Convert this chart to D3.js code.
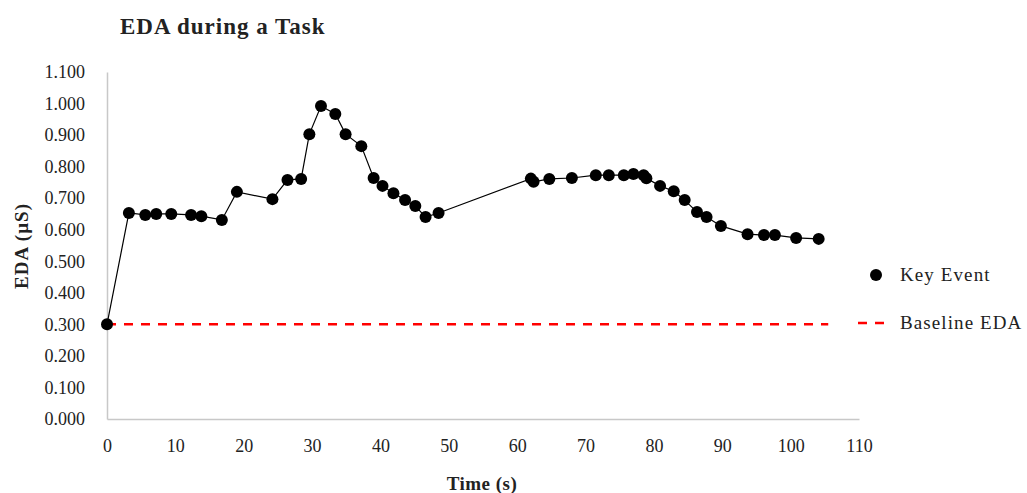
<!DOCTYPE html>
<html>
<head>
<meta charset="utf-8">
<script src="https://cdn.jsdelivr.net/npm/d3@7"></script>
<style>
    body { margin: 0; background: #fff; }
    text { font-family: "Liberation Serif", "DejaVu Serif", serif; fill: #222; }
</style>
</head>
<body>
<div id="chart"></div>
<script>
// Key event times (s) and EDA values (µS)
const times = [0, 3.2, 5.6, 7.2, 9.4, 12.3, 13.8, 16.8, 19.0, 24.2, 26.4, 28.4, 29.6, 31.3, 33.4, 34.9,
    37.2, 39.0, 40.3, 41.9, 43.6, 45.1, 46.6, 48.5, 62.0, 62.4, 64.7, 68.0, 71.5, 73.4, 75.6, 77.0,
    78.5, 78.9, 80.9, 82.9, 84.5, 86.3, 87.7, 89.8, 93.7, 96.1, 97.7, 100.8, 104.1];
const eda = [0.300, 0.653, 0.647, 0.650, 0.650, 0.647, 0.643, 0.631, 0.720, 0.697, 0.758, 0.761, 0.903, 0.992, 0.967, 0.903,
    0.865, 0.764, 0.739, 0.716, 0.694, 0.675, 0.640, 0.653, 0.762, 0.752, 0.761, 0.764, 0.773, 0.773, 0.773, 0.777,
    0.773, 0.763, 0.739, 0.722, 0.694, 0.656, 0.640, 0.612, 0.586, 0.583, 0.583, 0.574, 0.571];
const baselineTimes = [0, 105.5];
const baselineValue = 0.3;
const xTicks = [0, 10, 20, 30, 40, 50, 60, 70, 80, 90, 100, 110];
const yTicks = [0, 0.1, 0.2, 0.3, 0.4, 0.5, 0.6, 0.7, 0.8, 0.9, 1.0, 1.1];

const data = times.map((t, i) => ({t: t, v: eda[i]}));

const width = 1027, height = 493;
const svg = d3.select("#chart").append("svg")
    .attr("width", width)
    .attr("height", height);

const x = d3.scaleLinear().domain([0, 110]).range([107, 859]);
const y = d3.scaleLinear().domain([0, 1.1]).range([419, 72]);

// axes (no tick marks, light grey lines)
const xAxis = svg.append("g")
    .attr("transform", `translate(0,${y(0)})`)
    .call(d3.axisBottom(x).tickValues(xTicks).tickSize(0).tickPadding(20).tickFormat(d3.format("d")));
const yAxis = svg.append("g")
    .attr("transform", `translate(${x(0)},0)`)
    .call(d3.axisLeft(y).tickValues(yTicks).tickSize(0).tickPadding(22).tickFormat(d3.format(".3f")));
[xAxis, yAxis].forEach(g => {
    g.select(".domain").attr("stroke", "#c8c8c8").attr("stroke-width", 1.5);
    g.selectAll("text").style("font-size", "18px").attr("fill", "#222");
});

// baseline
svg.append("line")
    .attr("x1", x(baselineTimes[0])).attr("x2", x(baselineTimes[1]))
    .attr("y1", y(baselineValue)).attr("y2", y(baselineValue))
    .attr("stroke", "#ff0000")
    .attr("stroke-width", 2.5)
    .attr("stroke-dasharray", "9,8");

// the line
svg.append("path")
    .datum(data)
    .attr("fill", "none")
    .attr("stroke", "#000")
    .attr("stroke-width", 1.2)
    .attr("d", d3.line().x(d => x(d.t)).y(d => y(d.v)));

// points
svg.selectAll("circle.pt")
    .data(data)
    .enter()
    .append("circle")
    .attr("class", "pt")
    .attr("cx", d => x(d.t))
    .attr("cy", d => y(d.v))
    .attr("r", 6)
    .attr("fill", "#000");

// title and axis labels
svg.append("text")
    .attr("x", 120).attr("y", 34)
    .style("font-size", "23px").style("font-weight", "bold")
    .style("letter-spacing", "1px")
    .text("EDA during a Task");

svg.append("text")
    .attr("x", 482).attr("y", 490)
    .attr("text-anchor", "middle")
    .style("font-size", "19px").style("font-weight", "bold")
    .style("letter-spacing", "0.5px")
    .text("Time (s)");

svg.append("text")
    .attr("transform", "rotate(-90)")
    .attr("x", -246).attr("y", 28)
    .attr("text-anchor", "middle")
    .style("font-size", "19px").style("font-weight", "bold")
    .style("letter-spacing", "1px")
    .text("EDA (µS)");

// legend
const legend = svg.append("g");
legend.append("circle")
    .attr("cx", 876).attr("cy", 275).attr("r", 6).attr("fill", "#000");
legend.append("text")
    .attr("x", 900).attr("y", 281)
    .style("font-size", "19px")
    .style("letter-spacing", "1.1px")
    .text("Key Event");
legend.append("line")
    .attr("x1", 858).attr("x2", 885).attr("y1", 323).attr("y2", 323)
    .attr("stroke", "#ff0000").attr("stroke-width", 2.5).attr("stroke-dasharray", "9,8");
legend.append("text")
    .attr("x", 900).attr("y", 329)
    .style("font-size", "19px")
    .style("letter-spacing", "1.1px")
    .text("Baseline EDA");
</script>
</body>
</html>
